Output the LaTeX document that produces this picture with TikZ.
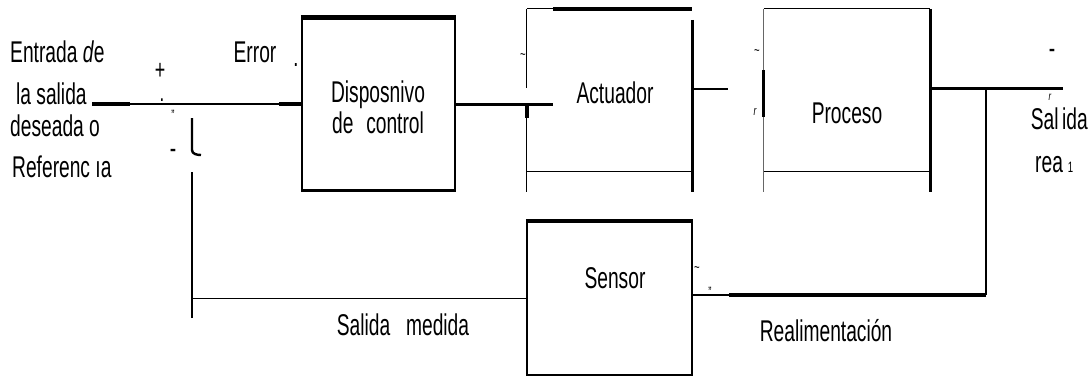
\documentclass[tikz,border=0pt]{standalone}
\usepackage{fontspec}
\setmainfont[FakeStretch=0.64]{Liberation Sans}
\usetikzlibrary{calc}
\tikzset{
  lbl/.style={inner sep=0pt, font=\fontsize{30}{33}\selectfont},
  tiny/.style={inner sep=0pt, font=\fontsize{15}{15}\selectfont},
  thinl/.style={line width=1.3pt},
  thkl/.style={line width=2.4pt},
  heavyl/.style={line width=3.8pt},
  blk/.style={draw=none, inner sep=0pt, minimum width=#1},
  boxd/.style={draw, line width=2.4pt, inner sep=0pt}
}
\begin{document}
\begin{tikzpicture}[x=1pt,y=-1pt]
\useasboundingbox (0,0) rectangle (1091,378);

% ---- blocks ----
\node[boxd, minimum width=153pt, minimum height=172pt] (disp) at (378.5,104.5) {};
\node[blk=165pt, minimum height=162pt] (act) at (609.5,90) {};
\node[blk=166pt, minimum height=162pt] (proc) at (847,90) {};
\node[boxd, line width=2.2pt, minimum width=165pt, minimum height=153pt] (sens) at (609.5,298.5) {};

% disp extra top
\draw[heavyl] (disp.north west) -- (disp.north east);
% actuador outline
\draw[thinl] (act.north west) -- ($(act.north west)+(26,0)$);
\draw[heavyl] ($(act.north west)+(26,0)$) -- (act.north east);
\draw[thinl] (act.north west) -- ($(act.north west)+(0,79)$);
\draw[thinl] ($(act.north west)+(0,95)$) -- ($(act.south west)+(0,21)$);
\draw[thinl] (act.south west) -- (act.south east);
\draw[line width=3pt] ($(act.north east)+(0,11)$) -- ($(act.south east)+(0,21)$);
% proceso outline
\draw[thinl] (proc.north west) -- (proc.north east);
\draw[line width=1.1pt, black!60] (proc.north west) -- ($(proc.south west)+(0,21)$);
\draw[line width=3pt] ($(proc.north west)+(0,61)$) -- ($(proc.north west)+(0,108)$);
\draw[thinl] (proc.south west) -- (proc.south east);
\draw[line width=3pt] (proc.north east) -- ($(proc.south east)+(0,21)$);
% sensor top
\draw[heavyl] (sens.north west) -- (sens.north east);

% ---- connectors ----
\coordinate (in) at (92,104);
\coordinate (actin) at (553,104);
\coordinate (apout) at (728,89);
\coordinate (out) at (1063,88);
\coordinate (jn) at (986,88);
\coordinate (fb) at (986,295);
\coordinate (fbm) at (729,295);
\coordinate (sumb) at (192,297);
\coordinate (sumtop) at (192,172);
\coordinate (sumbot) at (192,318);

\draw[thkl] (in) -- (in -| disp.west);
\draw[heavyl] (in) -- ++(38,0);
\draw[heavyl] ($(in -| disp.west)+(-22,0)$) -- (in -| disp.west);

\draw[thkl] (disp.east) -- (disp.east -| actin);
\draw[heavyl] (disp.east) -- ++(65,0);
\draw[heavyl] (disp.east -| act.west) -- ++(0,13);

\draw[thinl] (apout -| act.east) -- (apout);

\draw[line width=3pt] (out -| proc.east) -- (out);
\draw[line width=2.6pt] (jn) -- (fb);
\draw[heavyl] (fb) -- (fbm);
\draw[thkl] (fbm) -- (fbm -| sens.east);

\draw[thinl] (sens.west) -- (sens.west -| sumb);
\draw[thkl] (sumbot) -- (sumtop);
\draw[thkl] (192,118) -- (192,150) to[out=-90,in=180] (201,155);

% ---- texts ----
\node[lbl, anchor=base west] (t1) at (10,62) {Entrada \textit{d}e};
\node[lbl, anchor=base west] (t2) at (16,104) {la salida};
\node[lbl, anchor=base west] (t3) at (10,136) {deseada o};
\node[lbl, anchor=base west] (t4) at (12,177) {Referenc ıa};
\node[lbl, anchor=base] (terr) at (255,62) {Error};
\node[lbl, anchor=base] (td1) at (378,102) {Disposnivo};
\node[lbl, anchor=base] (td2) at (378,133) {de\hspace{0.25em} control};
\node[lbl, anchor=base] (tact) at (615,103) {Actuador};
\node[lbl, anchor=base] (tproc) at (847,123) {Proceso};
\node[lbl, anchor=base] (tsens) at (615,288) {Sensor};
\node[lbl, anchor=base] (tsm) at (403,335) {Salida\hspace{0.35em} medida};
\node[lbl, anchor=base] (treal) at (826,341) {Realimentación};
\node[lbl, anchor=base east] (tsr1) at (1088,129) {Sal\hspace{0.12em}ida};
\node[lbl, anchor=base west] (tsr2) at (1035,172) {rea\,{\fontsize{15}{15}\selectfont 1}};

% ---- stray marks ----
\node[inner sep=0pt, font=\fontsize{28}{28}\selectfont\rmfamily] (plus) at (160,71) {+};
\node[lbl, anchor=base] (minus) at (173,158) {-};
\node[lbl, anchor=base] (minus2) at (1052,58) {-};
\node[tiny] (q1) at (173,115) {''};
\node[tiny, font=\fontsize{20}{20}\selectfont\bfseries, anchor=base] (dot1) at (296,66) {.};
\node[tiny, font=\fontsize{18}{18}\selectfont\bfseries, anchor=base] (dot2) at (162,101) {.};
\node[tiny] (w1) at (523,57) {\textasciitilde};
\node[tiny] (w2) at (757,53) {\textasciitilde};
\node[tiny] (w3) at (697,270) {\textasciitilde};
\node[tiny] (q2) at (710,292) {''};
\node[tiny, font=\fontsize{13}{13}\selectfont\itshape] (r1) at (755,112) {r};
\node[tiny, font=\fontsize{12}{12}\selectfont\itshape] (r2) at (1050,97) {r};
\end{tikzpicture}
\end{document}
